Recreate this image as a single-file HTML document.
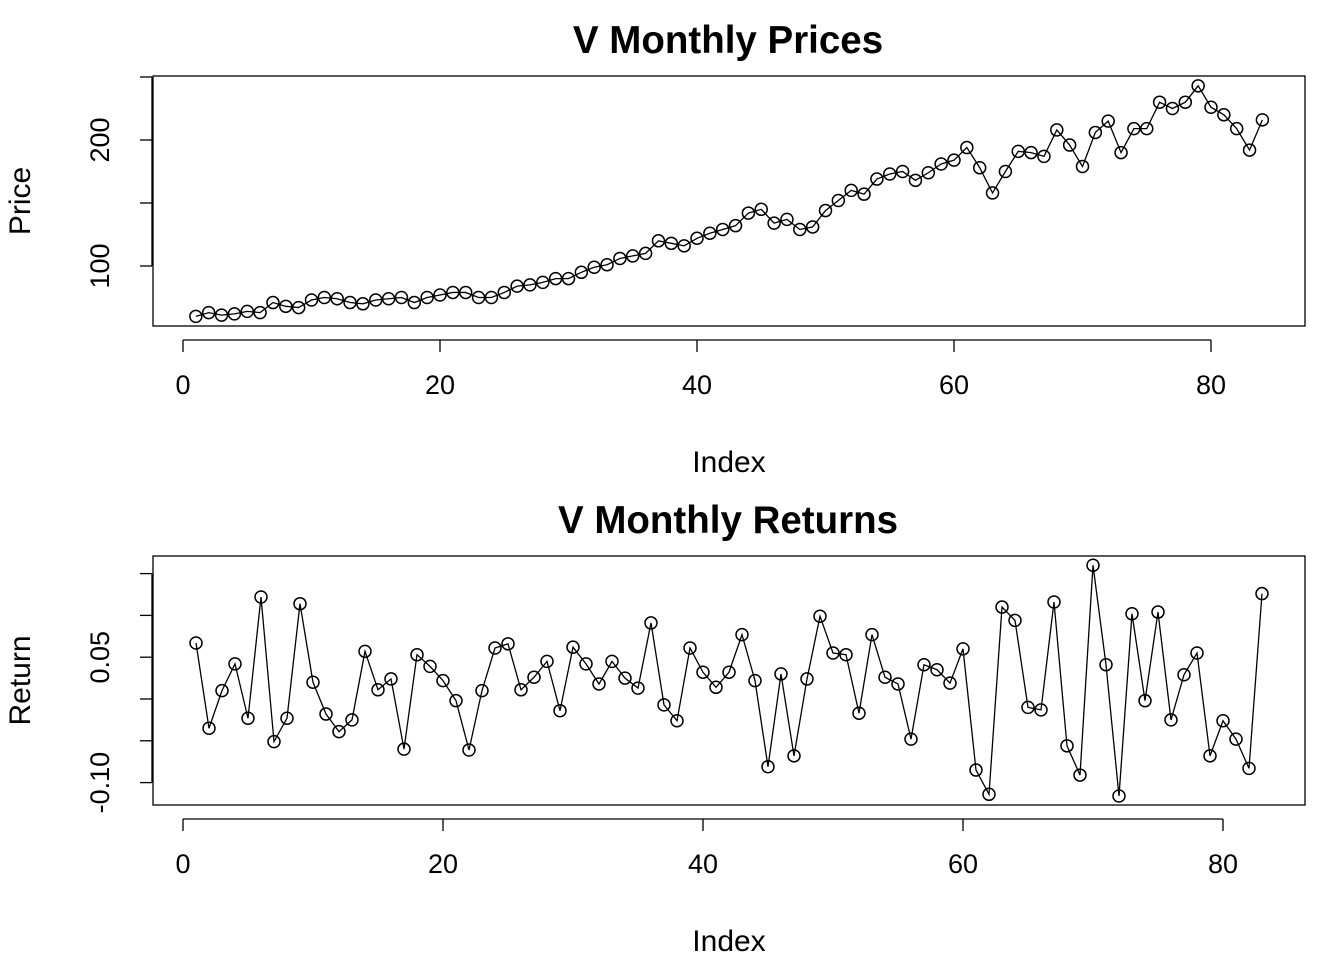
<!DOCTYPE html>
<html><head><meta charset="utf-8"><style>
body{margin:0;background:#fff}
svg{display:block;font-family:"Liberation Sans",Arial,sans-serif}
</style></head><body>
<svg id="c" width="1344" height="960" viewBox="0 0 1344 960">
<rect width="1344" height="960" fill="#fff"/>
</svg>
<script>
const prices=[60,63,61,62,64,63,71,68,67,73,75,74,71,70,73,74,75,71,75,77,79,79,75,75,79,84,85,87,90,90,95,99,101,106,108,110,120,118,116,122,126,129,132,142,145,134,137,129,131,144,152,160,157,169,173,175,168,174,181,184,194,178,158,175,191,190,187,208,196,179,206,215,190,209,209,230,225,230,243,226,220,209,192,216];
const returns=[0.067,-0.035,0.010,0.042,-0.023,0.122,-0.051,-0.023,0.114,0.020,-0.018,-0.039,-0.025,0.057,0.011,0.024,-0.060,0.053,0.039,0.022,-0.002,-0.061,0.010,0.061,0.066,0.011,0.026,0.045,-0.014,0.062,0.042,0.018,0.045,0.025,0.013,0.091,-0.007,-0.026,0.061,0.032,0.014,0.032,0.077,0.022,-0.081,0.030,-0.068,0.024,0.099,0.055,0.053,-0.017,0.077,0.026,0.018,-0.048,0.041,0.035,0.019,0.060,-0.085,-0.114,0.110,0.094,-0.010,-0.013,0.116,-0.056,-0.091,0.160,0.041,-0.116,0.102,-0.002,0.104,-0.025,0.029,0.055,-0.068,-0.026,-0.048,-0.083,0.126];
const xTicks=[0,20,40,60,80];
const priceTicks=[100,150,200,250];
const priceLabels=["100","","200",""];
const retTicks=[-0.10,-0.05,0,0.05,0.10,0.15];
const retLabels=["-0.10","","","0.05","",""];

const svg=document.getElementById('c');
const NS='http://www.w3.org/2000/svg';
function mk(tag,attrs,parent){const e=document.createElementNS(NS,tag);for(const k in attrs)e.setAttribute(k,attrs[k]);(parent||svg).appendChild(e);return e;}

function panel(cfg){
  const g=mk('g',{});
  
  
  const {x,y,data,box}=cfg;
  const fr=mk('rect',{x:box[0],y:box[1],width:box[2]-box[0],height:box[3]-box[1],fill:'none',stroke:'#000','stroke-width':1.3},g);
  
  
  const t=mk('text',{x:728,y:box[1]-23,'text-anchor':'middle','font-size':38.5,'font-weight':'bold'},g);
  t.textContent=cfg.title;
  
  
  const xa=mk('g',{},g);
  
  
  const ay=box[3]+14;
  mk('line',{x1:x(0),x2:x(80),y1:ay,y2:ay,stroke:'#000','stroke-width':1.3},xa);
  xTicks.forEach(v=>{
    mk('line',{x1:x(v),x2:x(v),y1:ay,y2:ay+12,stroke:'#000','stroke-width':1.3},xa);
    const tl=mk('text',{x:x(v),y:ay+54,'text-anchor':'middle','font-size':27},xa);
    tl.textContent=v;
    
    
  });
  const xl=mk('text',{x:729,y:box[3]+146,'text-anchor':'middle','font-size':30},g);
  xl.textContent='Index';
  
  
  const ya=mk('g',{},g);
  
  
  const ax=box[0]-1;
  mk('line',{x1:ax,x2:ax,y1:y(cfg.ticks[0]),y2:y(cfg.ticks[cfg.ticks.length-1]),stroke:'#000','stroke-width':1.3},ya);
  cfg.ticks.forEach((v,i)=>{
    mk('line',{x1:ax,x2:ax-12,y1:y(v),y2:y(v),stroke:'#000','stroke-width':1.3},ya);
    if(cfg.labels[i]){
      const tl=mk('text',{x:0,y:0,'text-anchor':'middle','font-size':27,transform:`translate(${ax-43},${y(v)}) rotate(-90)`},ya);
      tl.textContent=cfg.labels[i];
      
      
    }
  });
  const yl=mk('text',{x:0,y:0,'text-anchor':'middle','font-size':30,transform:`translate(30,${(box[1]+box[3])/2}) rotate(-90)`},g);
  yl.textContent=cfg.ylab;
  
  
  const pts=data.map((v,i)=>[x(i+1),y(v)]);
  const pl=mk('polyline',{points:pts.map(p=>p.join(',')).join(' '),fill:'none',stroke:'#000','stroke-width':1.3},g);
  
  
  pts.forEach(p=>{
    const c=mk('circle',{cx:p[0],cy:p[1],r:6,fill:'none',stroke:'#000','stroke-width':1.5},g);
    
    
  });
}
panel({name:'prices-panel',title:'V Monthly Prices',ylab:'Price',data:prices,box:[153,76,1305,326],
  x:v=>183+v*12.85,y:v=>266-(v-100)*1.26,ticks:priceTicks,labels:priceLabels});
panel({name:'returns-panel',title:'V Monthly Returns',ylab:'Return',data:returns,box:[153,556,1305,805],
  x:v=>183+v*13,y:v=>699-v*836,ticks:retTicks,labels:retLabels});
</script>
</body></html>
